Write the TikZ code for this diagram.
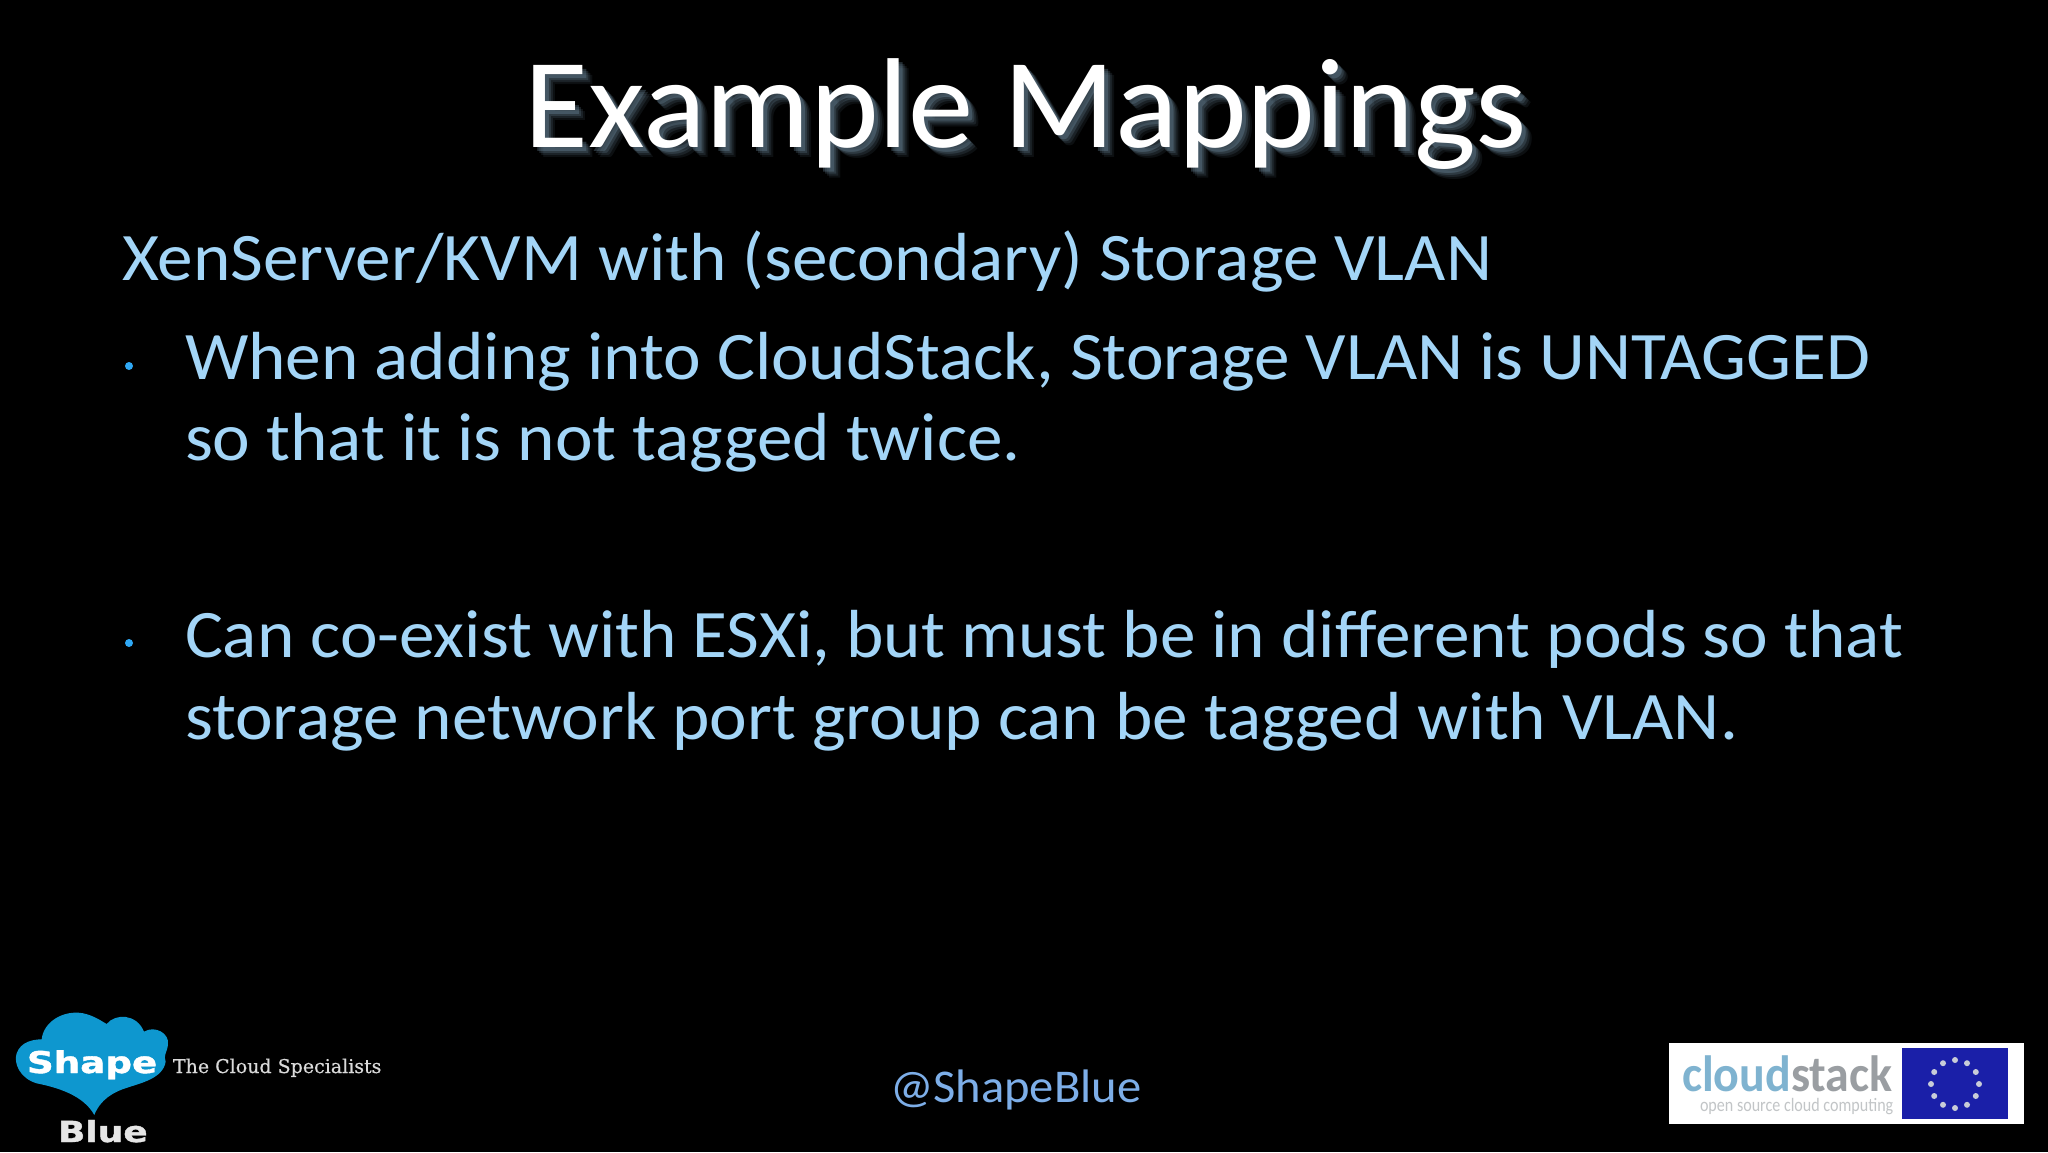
\documentclass[tikz,border=0pt]{standalone}
\usepackage{fontspec}
\usetikzlibrary{calc}
\setmainfont{Carlito}
\newfontfamily\logofont[FakeBold=1.2]{DejaVu Sans Bold}
\newfontfamily\slabfont[FakeBold=0.4]{DejaVu Serif}
\definecolor{bodyblue}{HTML}{A3D5F7}
\definecolor{bulletblue}{HTML}{2FA8F5}
\definecolor{handleblue}{HTML}{7DAEE8}
\definecolor{shadowblue}{HTML}{7A9AB0}
\definecolor{cloudblue}{HTML}{0E97CF}
\definecolor{csblue}{HTML}{7FB3D0}
\definecolor{csgray}{HTML}{9A9EA2}
\definecolor{euflag}{HTML}{1A1FA8}
\definecolor{stargray}{HTML}{C8CCD8}
\tikzset{
  x=1pt,y=-1pt,
  txt/.style={anchor=base west,inner sep=0pt,outer sep=0pt},
  body/.style={txt,text=bodyblue,font=\fontsize{68}{68}\selectfont,xscale=1.048},
  titletext/.style={inner sep=0pt,anchor=base,font=\fontsize{128}{128}\selectfont,xscale=1.022},
  bul/.style={circle,fill=bulletblue,inner sep=0pt,minimum size=8pt},
  star/.style={circle,fill=stargray,inner sep=0pt,minimum size=6pt},
}
\begin{document}
\begin{tikzpicture}
\useasboundingbox (0,0) rectangle (2048,1152);
\fill[black] (0,0) rectangle (2048,1152);
% title with its soft drop shadow
\foreach \d/\o in {10/.10,8/.14,6/.2,4/.3}{
  \node[titletext,text=shadowblue,opacity=\o] at (1026+\d,147+\d) {Example Mappings};
}
\node[titletext,text=white] (title) at (1026,147) {Example Mappings};
% body
\node[body] (sub) at (122,280) {XenServer/KVM with (secondary) Storage VLAN};
\node[bul] (b1) at (129,366) {};
\node[body] (l1) at (185,379) {When adding into CloudStack, Storage VLAN is UNTAGGED};
\node[body] (l2) at (185,460) {so that it is not tagged twice.};
\node[bul] (b2) at (129,643) {};
\node[body] (l3) at (185,657) {Can co-exist with ESXi, but must be in different pods so that};
\node[body] (l4) at (185,739) {storage network port group can be tagged with VLAN.};
% footer
\node[txt,text=handleblue,font=\fontsize{47}{47}\selectfont,xscale=1.033] (handle) at (890,1102) {@ShapeBlue};
% shape blue logo
\begin{scope}[shift={(0,1000)},x=0.3333pt,y=-0.3333pt]
\fill[cloudblue] (283,345)
  .. controls (250,285) and (170,262) .. (110,250)
  .. controls (60,235) and (40,190) .. (50,160)
  .. controls (62,125) and (100,118) .. (125,118)
  .. controls (130,70) and (180,35) .. (235,38)
  .. controls (270,40) and (300,60) .. (320,72)
  .. controls (345,40) and (410,40) .. (432,95)
  .. controls (465,75) and (510,100) .. (504,135)
  .. controls (500,160) and (490,165) .. (497,185)
  .. controls (490,235) and (420,250) .. (385,262)
  .. controls (340,275) and (300,300) .. (283,345) -- cycle;
\end{scope}
\node[txt,text=white,font=\logofont\fontsize{30}{30}\selectfont,xscale=1.24] (shape) at (27,1073) {Shape};
\node[txt,text=white!90!black,font=\logofont\fontsize{29}{29}\selectfont,xscale=1.24] (blue) at (58,1142) {Blue};
\node[txt,text=white!85!black,font=\slabfont\fontsize{19}{19}\selectfont] (tag) at (173,1073) {The Cloud Specialists};
% cloudstack logo
\fill[white] (1669,1043) rectangle (2024,1124);
\fill[euflag] (1902,1048) rectangle (2008,1119);
\coordinate (ctr) at (1955,1084);
\foreach \a in {0,30,...,330}{
  \node[star] at ($(ctr)+(\a:24)$) {};
}
\node[txt,font=\fontsize{51}{51}\selectfont\bfseries,xscale=.94] (cs) at (1682,1091) {\textcolor{csblue}{cloud}\textcolor{csgray}{stack}};
\node[txt,text=csgray!60!white,font=\fontsize{19}{19}\selectfont,xscale=.846] (oss) at (1700,1111) {open source cloud computing};
\end{tikzpicture}
\end{document}
